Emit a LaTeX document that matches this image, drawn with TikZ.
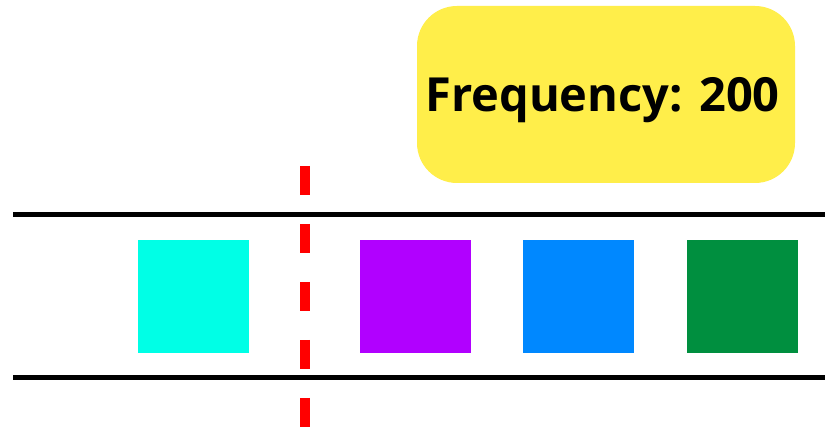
\documentclass[tikz,border=0pt]{standalone}
\usepackage{fontspec}
\setmainfont{Open Sans}
\definecolor{ccyan}{HTML}{00FFE6}
\definecolor{cpurple}{HTML}{B100FF}
\definecolor{cblue}{HTML}{0088FF}
\definecolor{cgreen}{HTML}{008F3F}
\definecolor{cyellow}{HTML}{FFEE4A}
\definecolor{cred}{HTML}{FF0000}
\tikzset{
  sq/.style={minimum width=111pt, minimum height=113pt, inner sep=0pt, draw=none},
  rail/.style={line width=5pt, black},
  cut/.style={line width=10pt, cred, dash pattern=on 29pt off 29pt},
  badge/.style={fill=cyellow, rounded corners=40pt, minimum width=378pt, minimum height=177pt, inner sep=0pt},
  lbl/.style={inner sep=0pt, anchor=base, font=\bfseries\fontsize{47}{50}\selectfont}
}
\begin{document}
\begin{tikzpicture}[x=1pt,y=-1pt]
\useasboundingbox (0,0) rectangle (825,427);
\fill[white] (0,0) rectangle (825,427);
\node[badge] (freq) at (606,94.5) {};
\node[lbl] (freqtext) at (602.5,112) {Frequency: 200};
\coordinate (t1) at (13,214.5); \coordinate (t2) at (825,214.5);
\coordinate (b1) at (13,377.5); \coordinate (b2) at (825,377.5);
\draw[rail] (t1) -- (t2);
\draw[rail] (b1) -- (b2);
\node[sq, fill=ccyan] (s1) at (193.5,296.5) {};
\node[sq, fill=cpurple] (s2) at (415.5,296.5) {};
\node[sq, fill=cblue] (s3) at (578.5,296.5) {};
\node[sq, fill=cgreen] (s4) at (742.5,296.5) {};
\coordinate (c1) at (304.5,166); \coordinate (c2) at (304.5,427);
\draw[cut] (c1) -- (c2);
\end{tikzpicture}
\end{document}
